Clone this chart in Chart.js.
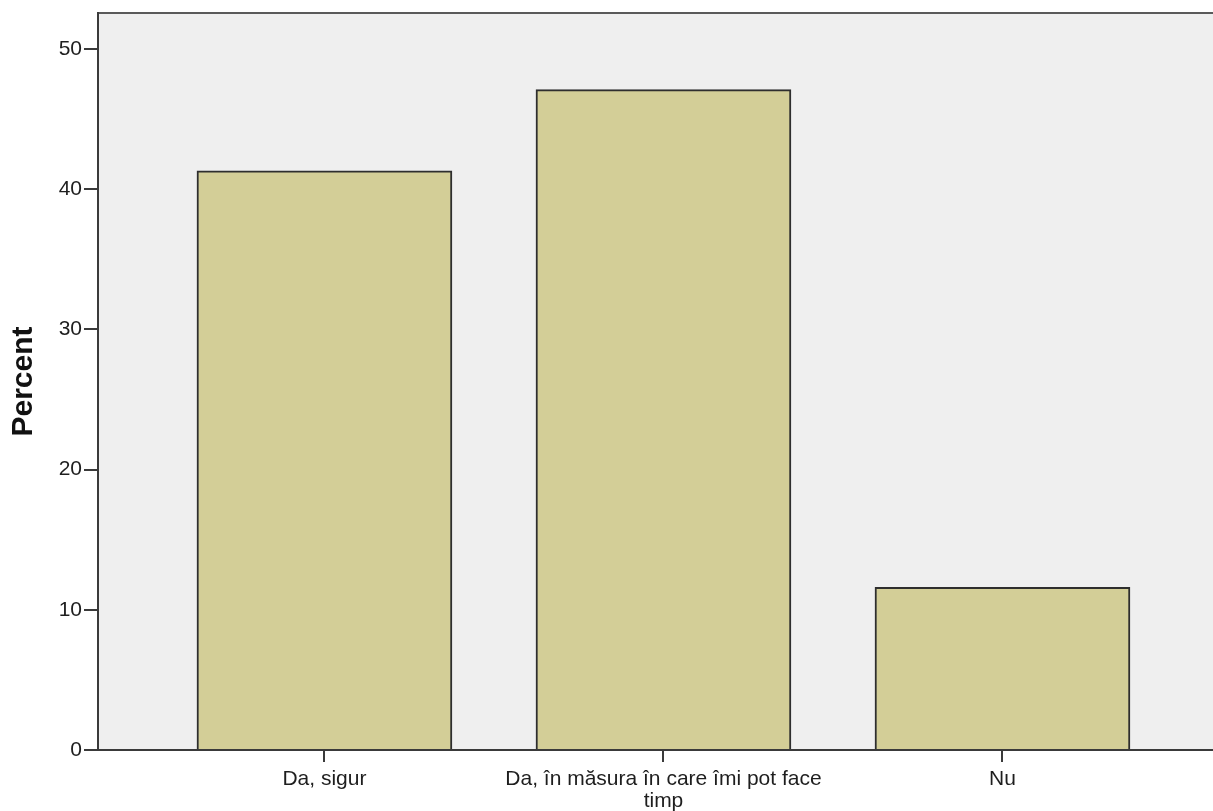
<!DOCTYPE html>
<html>
<head>
<meta charset="utf-8">
<title>Percent</title>
<script src="https://cdn.jsdelivr.net/npm/chart.js@4.4.1/dist/chart.umd.min.js"></script>
<style>
  html, body { margin: 0; padding: 0; background: #ffffff; }
  #wrap { width: 1213px; height: 811px; position: relative; }
</style>
</head>
<body>
<div id="wrap"><canvas id="percentChart"></canvas></div>
<script>
// chart data
const categories = [
  'Da, sigur',
  ['Da, în măsura în care îmi pot face', 'timp'],
  'Nu'
];
const percents = [41.3, 47.1, 11.6];
const yTicks = [0, 10, 20, 30, 40, 50];

// grey plot panel + top frame line, like the SPSS output
const plotBackground = {
  id: 'plotBackground',
  beforeDraw(chart) {
    const { ctx, chartArea: a } = chart;
    ctx.save();
    ctx.fillStyle = '#efefef';
    ctx.fillRect(a.left, a.top, a.right - a.left, a.bottom - a.top);
    ctx.strokeStyle = '#5a5a5a';
    ctx.lineWidth = 2;
    ctx.beginPath();
    ctx.moveTo(a.left, a.top);
    ctx.lineTo(a.right, a.top);
    ctx.stroke();
    ctx.restore();
  }
};

const font = { family: '"Liberation Sans", Arial, sans-serif', size: 21, lineHeight: 1.05 };

new Chart(document.getElementById('percentChart'), {
  type: 'bar',
  data: {
    datasets: [{
      label: 'Percent',
      data: percents.map((v, i) => ({ x: i, y: v })),
      backgroundColor: '#d3ce97',
      borderColor: '#2e2e2e',
      borderWidth: 2,
      borderSkipped: 'bottom',
      barThickness: 255
    }]
  },
  options: {
    responsive: true,
    maintainAspectRatio: false,
    animation: false,
    layout: { padding: { top: 12, right: 0, left: 0, bottom: 0 } },
    plugins: {
      legend: { display: false },
      tooltip: { enabled: false }
    },
    scales: {
      x: {
        type: 'linear',
        offset: false,
        min: -0.668,
        max: 2.621,
        afterFit(scale) { scale.height = 61; },
        afterBuildTicks(axis) { axis.ticks = categories.map((c, i) => ({ value: i })); },
        grid: { offset: false, drawOnChartArea: false, drawTicks: true, tickLength: 12, color: '#3a3a3a', lineWidth: 2 },
        border: { display: true, color: '#3a3a3a', width: 2, z: 1 },
        ticks: {
          autoSkip: false,
          maxRotation: 0,
          padding: 6,
          color: '#1e1e1e',
          font: font,
          callback: (value) => categories[value]
        }
      },
      y: {
        min: 0,
        max: 52.56,
        afterFit(scale) { scale.width = 98; },
        afterBuildTicks(axis) { axis.ticks = yTicks.map(v => ({ value: v })); },
        grid: { drawOnChartArea: false, drawTicks: true, tickLength: 14, color: '#3a3a3a', lineWidth: 2 },
        border: { display: true, color: '#3a3a3a', width: 2 },
        ticks: { padding: 2, color: '#1e1e1e', font: font },
        title: {
          display: true,
          text: 'Percent',
          color: '#111111',
          padding: { top: 6, bottom: 0 },
          font: { family: '"Liberation Sans", Arial, sans-serif', size: 30, weight: 'bold' }
        }
      }
    }
  },
  plugins: [plotBackground]
});
</script>
</body>
</html>
